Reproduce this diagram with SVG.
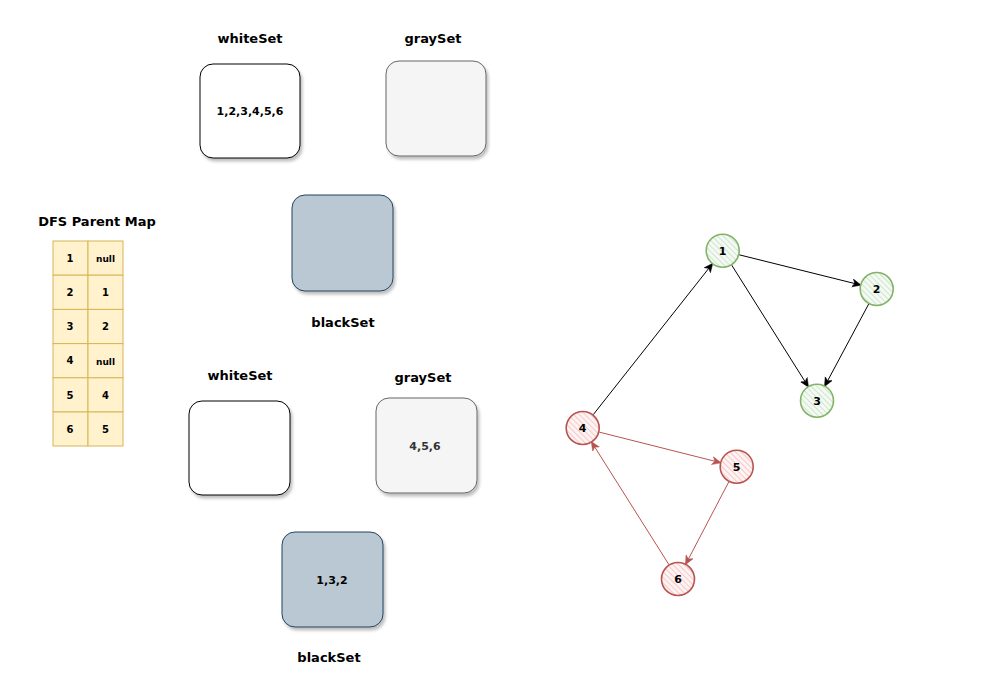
<svg xmlns="http://www.w3.org/2000/svg" width="983" height="677" viewBox="0 0 983 677">
<style>
.lbl{font-family:"DejaVu Sans","Liberation Sans",sans-serif;font-weight:bold;font-size:13px;fill:#000;text-anchor:middle}
.in{font-family:"DejaVu Sans","Liberation Sans",sans-serif;font-weight:bold;font-size:11px;fill:#000;text-anchor:middle;dominant-baseline:central}
.tb{font-family:"DejaVu Sans","Liberation Sans",sans-serif;font-weight:bold;font-size:10px;fill:#000;text-anchor:middle;dominant-baseline:central}
.white{fill:#fff;stroke:#000;stroke-width:1}
.gray{fill:#f5f5f5;stroke:#666;stroke-width:1}
.black{fill:#bac8d3;stroke:#23445d;stroke-width:1}
.cell{fill:#fff2cc;stroke:#d6b656;stroke-width:1}
.gn{fill:url(#hg);stroke:#82b366;stroke-width:1.6}
.rn{fill:url(#hr);stroke:#b85450;stroke-width:1.6}
.e{stroke:#000;stroke-width:1;fill:none;marker-end:url(#ab)}
.er{stroke:#b85450;stroke-width:1;fill:none;marker-end:url(#ar)}
</style>
<defs>
<filter id="sh" x="-10%" y="-10%" width="130%" height="130%">
<feDropShadow dx="2" dy="3" stdDeviation="1.5" flood-color="#000" flood-opacity="0.25"/>
</filter>
<pattern id="hg" width="4" height="4" patternUnits="userSpaceOnUse" patternTransform="rotate(-45)">
<rect width="4" height="4" fill="#f4faf3"/>
<line x1="0" y1="0" x2="0" y2="4" stroke="#cfe5cd" stroke-width="2"/>
</pattern>
<pattern id="hr" width="4" height="4" patternUnits="userSpaceOnUse" patternTransform="rotate(-45)">
<rect width="4" height="4" fill="#fdf3f3"/>
<line x1="0" y1="0" x2="0" y2="4" stroke="#f6c9c7" stroke-width="2"/>
</pattern>
<marker id="ab" markerWidth="10" markerHeight="10" refX="8" refY="5" orient="auto" markerUnits="userSpaceOnUse">
<path d="M0,1 L9,5 L0,9 L2.5,5 Z" fill="#000" stroke="#000" stroke-width="0.5"/>
</marker>
<marker id="ar" markerWidth="10" markerHeight="10" refX="8" refY="5" orient="auto" markerUnits="userSpaceOnUse">
<path d="M0,1 L9,5 L0,9 L2.5,5 Z" fill="#b85450" stroke="#b85450" stroke-width="0.5"/>
</marker>
</defs>
<rect width="983" height="677" fill="#fff"/>

<g id="whiteSet1">
<text class="lbl" x="250" y="43">whiteSet</text>
<rect class="white" x="200" y="64" width="100" height="94" rx="13" filter="url(#sh)"/>
<text class="in" x="250" y="111">1,2,3,4,5,6</text>
</g>
<g id="graySet1">
<text class="lbl" x="433" y="43">graySet</text>
<rect class="gray" x="386" y="61" width="100" height="95" rx="13" filter="url(#sh)"/>
</g>
<g id="blackSet1">
<rect class="black" x="292" y="195" width="101" height="96" rx="13" filter="url(#sh)"/>
<text class="lbl" x="343" y="327">blackSet</text>
</g>

<g id="parentMap">
<text class="lbl" x="97" y="226">DFS Parent Map</text>
<rect class="cell" x="53" y="241" width="35" height="34.2"/>
<rect class="cell" x="88" y="241" width="35" height="34.2"/>
<rect class="cell" x="53" y="275.2" width="35" height="34.2"/>
<rect class="cell" x="88" y="275.2" width="35" height="34.2"/>
<rect class="cell" x="53" y="309.4" width="35" height="34.2"/>
<rect class="cell" x="88" y="309.4" width="35" height="34.2"/>
<rect class="cell" x="53" y="343.6" width="35" height="34.2"/>
<rect class="cell" x="88" y="343.6" width="35" height="34.2"/>
<rect class="cell" x="53" y="377.8" width="35" height="34.2"/>
<rect class="cell" x="88" y="377.8" width="35" height="34.2"/>
<rect class="cell" x="53" y="412" width="35" height="34"/>
<rect class="cell" x="88" y="412" width="35" height="34"/>
<text class="tb" x="70" y="258">1</text><text class="tb" x="105.5" y="259" style="font-size:9px">null</text>
<text class="tb" x="70" y="292.5">2</text><text class="tb" x="105.5" y="292.5">1</text>
<text class="tb" x="70" y="326.5">3</text><text class="tb" x="105.5" y="326.5">2</text>
<text class="tb" x="70" y="360.5">4</text><text class="tb" x="105.5" y="361.5" style="font-size:9px">null</text>
<text class="tb" x="70" y="395">5</text><text class="tb" x="105.5" y="395">4</text>
<text class="tb" x="70" y="429">6</text><text class="tb" x="105.5" y="429">5</text>
</g>

<g id="whiteSet2">
<text class="lbl" x="240" y="380">whiteSet</text>
<rect class="white" x="189" y="401" width="101" height="94" rx="13" filter="url(#sh)"/>
</g>
<g id="graySet2">
<text class="lbl" x="423" y="382">graySet</text>
<rect class="gray" x="376" y="398" width="101" height="95" rx="13" filter="url(#sh)"/>
<text class="in" x="425" y="446" style="fill:#333">4,5,6</text>
</g>
<g id="blackSet2">
<rect class="black" x="282" y="532" width="101" height="95" rx="13" filter="url(#sh)"/>
<text class="in" x="332" y="580">1,3,2</text>
<text class="lbl" x="329" y="662">blackSet</text>
</g>

<g id="connectors">
<line class="e" x1="739.2" y1="254.8" x2="860.2" y2="284.9"/>
<line class="e" x1="731.7" y1="265.1" x2="808" y2="386.3"/>
<line class="e" x1="868.7" y1="304" x2="825" y2="385.7"/>
<line class="e" x1="593.2" y1="414.7" x2="712.2" y2="264"/>
<line class="er" x1="599.2" y1="432.1" x2="720.2" y2="462.6"/>
<line class="er" x1="728.8" y1="481.8" x2="685.9" y2="563.9"/>
<line class="er" x1="668.9" y1="564.6" x2="591.8" y2="442.4"/>
</g>

<g id="node1"><circle class="gn" cx="722.7" cy="250.7" r="16.5"/><text class="in" x="722.7" y="251">1</text></g>
<g id="node2"><circle class="gn" cx="876.7" cy="289" r="16.5"/><text class="in" x="876.7" y="289.5">2</text></g>
<g id="node3"><circle class="gn" cx="817" cy="400.7" r="16.5"/><text class="in" x="817" y="401">3</text></g>
<g id="node4"><circle class="rn" cx="582.7" cy="428" r="16.5"/><text class="in" x="582.7" y="428.5">4</text></g>
<g id="node5"><circle class="rn" cx="736.7" cy="466.7" r="16.5"/><text class="in" x="736.7" y="467">5</text></g>
<g id="node6"><circle class="rn" cx="678" cy="579" r="16.5"/><text class="in" x="678" y="579.5">6</text></g>
</svg>
